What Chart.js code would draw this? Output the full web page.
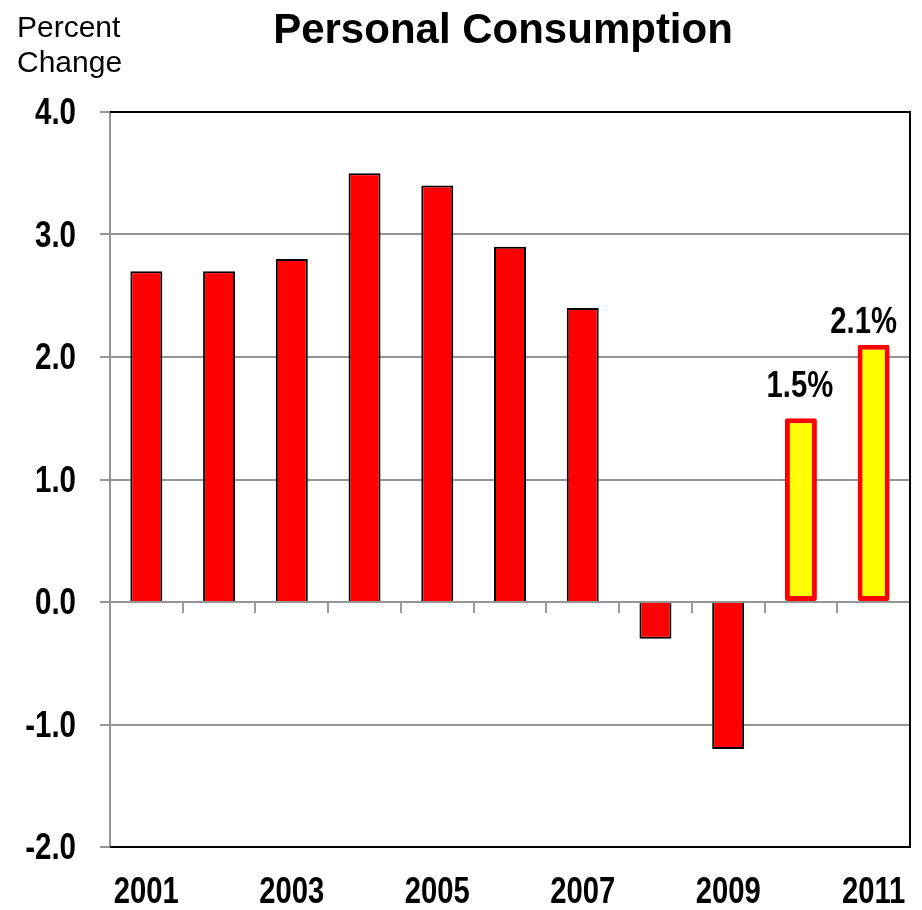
<!DOCTYPE html>
<html>
<head>
<meta charset="utf-8">
<title>Personal Consumption</title>
<script src="https://cdn.jsdelivr.net/npm/chart.js@4/dist/chart.umd.min.js"></script>
<style>
  html, body { margin: 0; padding: 0; background: #fff; }
</style>
</head>
<body>
<canvas id="chart" width="922" height="910"></canvas>
<script>
const years = ['2001', '2002', '2003', '2004', '2005', '2006', '2007', '2008', '2009', '2010', '2011'];
const changes = [2.7, 2.7, 2.8, 3.5, 3.4, 2.9, 2.4, -0.3, -1.2, 1.5, 2.1];
// last two years are forecasts: yellow bars with a value label
const forecast = [false, false, false, false, false, false, false, false, false, true, true];
const yMin = -2, yMax = 4, yStep = 1;

const SANS = "'Liberation Sans', Arial, sans-serif";

// bold text squeezed horizontally, like a narrow face
function condensed(ctx, text, x, y, size, squeeze, align) {
  ctx.save();
  ctx.font = 'bold ' + size + 'px ' + SANS;
  ctx.textAlign = align || 'center';
  ctx.textBaseline = 'alphabetic';
  ctx.translate(x, y);
  ctx.scale(squeeze, 1);
  ctx.fillText(text, 0, 0);
  ctx.restore();
}

// frame, zero-line ticks, axis labels, headings and the forecast labels
const decorations = {
  id: 'decorations',
  beforeDatasetsDraw(chart) {
    const { ctx, scales: { x, y } } = chart;
    const y0 = y.getPixelForValue(0);
    ctx.save();
    ctx.strokeStyle = '#999';
    ctx.lineWidth = 2;
    ctx.beginPath();
    for (let i = 0; i < years.length - 1; i++) {
      const px = Math.round((x.getPixelForValue(i) + x.getPixelForValue(i + 1)) / 2);
      ctx.moveTo(px, y0);
      ctx.lineTo(px, y0 + 11);
    }
    ctx.stroke();
    ctx.restore();
  },
  afterDatasetsDraw(chart) {
    const { ctx, chartArea: a, scales: { x, y } } = chart;
    ctx.save();
    // black frame on top, right and bottom
    ctx.strokeStyle = '#000';
    ctx.lineWidth = 2;
    ctx.beginPath();
    ctx.moveTo(a.left, a.top);
    ctx.lineTo(a.right, a.top);
    ctx.lineTo(a.right, a.bottom);
    ctx.lineTo(a.left, a.bottom);
    ctx.stroke();
    ctx.fillStyle = '#000';

    // y tick values, one decimal
    y.ticks.forEach(t => {
      condensed(ctx, t.value.toFixed(1), a.left - 34, y.getPixelForValue(t.value) + 12, 36, 0.82, 'right');
    });

    // every other year under the axis
    years.forEach((yr, i) => {
      if (i % 2 === 0) condensed(ctx, yr, x.getPixelForValue(i), a.bottom + 56, 37, 0.79);
    });

    // value labels over the forecast bars
    const meta = chart.getDatasetMeta(0);
    const shift = { 9: [-1, -21], 10: [-10, -12] };
    changes.forEach((v, i) => {
      if (!forecast[i]) return;
      const bar = meta.data[i];
      const s = shift[i] || [0, -14];
      condensed(ctx, v.toFixed(1) + '%', bar.x + s[0], bar.y + s[1], 37, 0.79);
    });

    // headings
    ctx.textAlign = 'center';
    ctx.font = 'bold 42px ' + SANS;
    ctx.fillText('Personal Consumption', 503, 43);
    ctx.textAlign = 'left';
    ctx.font = '30px ' + SANS;
    ctx.fillText('Percent', 17, 37);
    ctx.fillText('Change', 17, 72);
    ctx.restore();
  }
};

new Chart(document.getElementById('chart'), {
  type: 'bar',
  data: {
    labels: years,
    datasets: [{
      data: changes,
      backgroundColor: forecast.map(f => f ? '#FFFF00' : '#FF0000'),
      borderColor: forecast.map(f => f ? '#FF0000' : '#000000'),
      borderWidth: forecast.map(f => f ? 5 : 2),
      borderSkipped: ctx => forecast[ctx.dataIndex] ? false : 'start',
      borderRadius: ctx => forecast[ctx.dataIndex] ? 2 : 0,
      barPercentage: 0.44,
      categoryPercentage: 1
    }]
  },
  options: {
    responsive: false,
    animation: false,
    devicePixelRatio: 1,
    layout: { padding: { top: 112, right: 12, left: 0, bottom: 0 } },
    plugins: { legend: { display: false }, title: { display: false }, tooltip: { enabled: false } },
    scales: {
      x: {
        grid: { display: false, drawTicks: false },
        border: { display: false },
        ticks: { display: false },
        afterFit: s => { s.height = 63; }
      },
      y: {
        min: yMin,
        max: yMax,
        afterFit: s => { s.width = 110; },
        grid: { color: '#959595', lineWidth: 2, tickLength: 10 },
        border: { color: '#959595', width: 2 },
        ticks: { stepSize: yStep, color: 'rgba(0,0,0,0)', font: { size: 1 } }
      }
    }
  },
  plugins: [decorations]
});
</script>
</body>
</html>
